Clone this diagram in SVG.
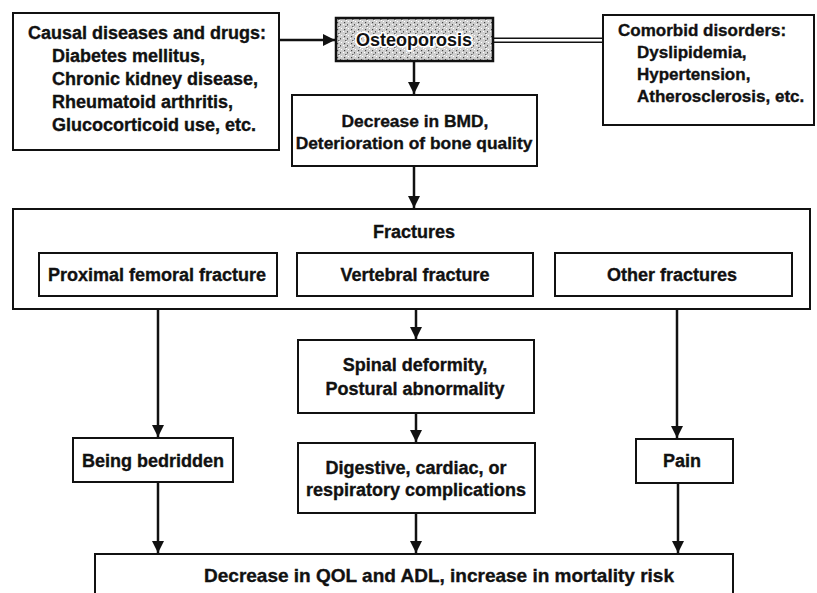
<svg xmlns="http://www.w3.org/2000/svg" width="817" height="593" viewBox="0 0 817 593">
<style>
  .box { fill: #fff; stroke: #111; stroke-width: 2; }
  .t { font-family: "Liberation Sans", Arial, sans-serif; font-weight: bold; font-size: 18px; fill: #111; stroke: #111; stroke-width: 0.35; }
  .c { text-anchor: middle; }
  .ln { stroke: #111; stroke-width: 2.5; fill: none; }
</style>
<defs>
  <marker id="ah" markerWidth="14" markerHeight="12" refX="12" refY="6" orient="auto" markerUnits="userSpaceOnUse">
    <path d="M0,0 L12,6 L0,12 Z" fill="#111"/>
  </marker>
  <pattern id="stip" width="7" height="7" patternUnits="userSpaceOnUse">
    <rect width="7" height="7" fill="#cfcfcf"/>
    <rect x="1" y="1" width="1.2" height="1.2" fill="#444"/>
    <rect x="4" y="3" width="1" height="1.5" fill="#555"/>
    <rect x="2" y="5" width="1.5" height="1" fill="#666"/>
    <rect x="5" y="0" width="1" height="1" fill="#fff"/>
    <rect x="0" y="3" width="1.2" height="1" fill="#fff"/>
    <rect x="3" y="6" width="1" height="1" fill="#fff"/>
  </pattern>
</defs>
<rect width="817" height="593" fill="#fff"/>

<g id="connectors">
  <line class="ln" x1="279" y1="40" x2="335" y2="40" marker-end="url(#ah)"/>
  <line x1="493" y1="38.3" x2="603" y2="38.3" stroke="#111" stroke-width="1.6"/>
  <line x1="493" y1="42.3" x2="603" y2="42.3" stroke="#111" stroke-width="1.6"/>
  <line class="ln" x1="414" y1="61" x2="414" y2="94" marker-end="url(#ah)"/>
  <line class="ln" x1="414" y1="166" x2="414" y2="208" marker-end="url(#ah)"/>
  <line class="ln" x1="158" y1="296" x2="158" y2="437" marker-end="url(#ah)"/>
  <line class="ln" x1="416" y1="296" x2="416" y2="339" marker-end="url(#ah)"/>
  <line class="ln" x1="677" y1="296" x2="677" y2="438" marker-end="url(#ah)"/>
  <line class="ln" x1="416" y1="413" x2="416" y2="442" marker-end="url(#ah)"/>
  <line class="ln" x1="158" y1="482" x2="158" y2="553" marker-end="url(#ah)"/>
  <line class="ln" x1="416" y1="513" x2="416" y2="553" marker-end="url(#ah)"/>
  <line class="ln" x1="678" y1="483" x2="678" y2="553" marker-end="url(#ah)"/>
</g>

<g id="causal">
  <rect class="box" x="13" y="13" width="266" height="137"/>
  <text class="t" x="28" y="39">Causal diseases and drugs:</text>
  <text class="t" x="52" y="62">Diabetes mellitus,</text>
  <text class="t" x="52" y="85">Chronic kidney disease,</text>
  <text class="t" x="52" y="108">Rheumatoid arthritis,</text>
  <text class="t" x="52" y="131">Glucocorticoid use, etc.</text>
</g>

<g id="osteoporosis">
  <rect x="336" y="18" width="157" height="43" fill="url(#stip)" stroke="#111" stroke-width="2.5"/>
  <text class="t c" x="414" y="46" style="stroke:#fff;stroke-width:3.5" paint-order="stroke" stroke-linejoin="round">Osteoporosis</text>
</g>

<g id="comorbid" style="font-size:17px">
  <rect class="box" x="603" y="15" width="211" height="110"/>
  <text class="t" x="618" y="36" style="font-size:17px">Comorbid disorders:</text>
  <text class="t" x="637" y="58" style="font-size:17px">Dyslipidemia,</text>
  <text class="t" x="637" y="80" style="font-size:17px">Hypertension,</text>
  <text class="t" x="637" y="102" style="font-size:17px">Atherosclerosis, etc.</text>
</g>

<g id="bmd">
  <rect class="box" x="292" y="95" width="245" height="71"/>
  <text class="t c" x="415" y="127" style="font-size:17.4px">Decrease in BMD,</text>
  <text class="t c" x="414" y="149" style="font-size:17.4px">Deterioration of bone quality</text>
</g>

<g id="fractures">
  <rect class="box" x="13" y="209" width="797" height="100"/>
  <text class="t c" x="414" y="238">Fractures</text>
</g>

<g id="proximal">
  <rect class="box" x="39" y="253" width="238" height="43"/>
  <text class="t c" x="157" y="281">Proximal femoral fracture</text>
</g>

<g id="vertebral">
  <rect class="box" x="297" y="253" width="236" height="43"/>
  <text class="t c" x="415" y="281">Vertebral fracture</text>
</g>

<g id="other">
  <rect class="box" x="555" y="253" width="237" height="43"/>
  <text class="t c" x="672" y="281">Other fractures</text>
</g>

<g id="spinal">
  <rect class="box" x="298" y="340" width="236" height="73"/>
  <text class="t c" x="415" y="371">Spinal deformity,</text>
  <text class="t c" x="415" y="395">Postural abnormality</text>
</g>

<g id="bedridden">
  <rect class="box" x="73" y="438" width="160" height="44"/>
  <text class="t c" x="153" y="467">Being bedridden</text>
</g>

<g id="digestive">
  <rect class="box" x="298" y="443" width="237" height="70"/>
  <text class="t c" x="416" y="474">Digestive, cardiac, or</text>
  <text class="t c" x="416" y="496">respiratory complications</text>
</g>

<g id="pain">
  <rect class="box" x="636" y="439" width="97" height="44"/>
  <text class="t c" x="682" y="467">Pain</text>
</g>

<g id="outcome">
  <path d="M95,600 V554 H733 V600" fill="#fff" stroke="#111" stroke-width="2"/>
  <text class="t c" x="439" y="582" style="font-size:19px">Decrease in QOL and ADL, increase in mortality risk</text>
</g>
</svg>
